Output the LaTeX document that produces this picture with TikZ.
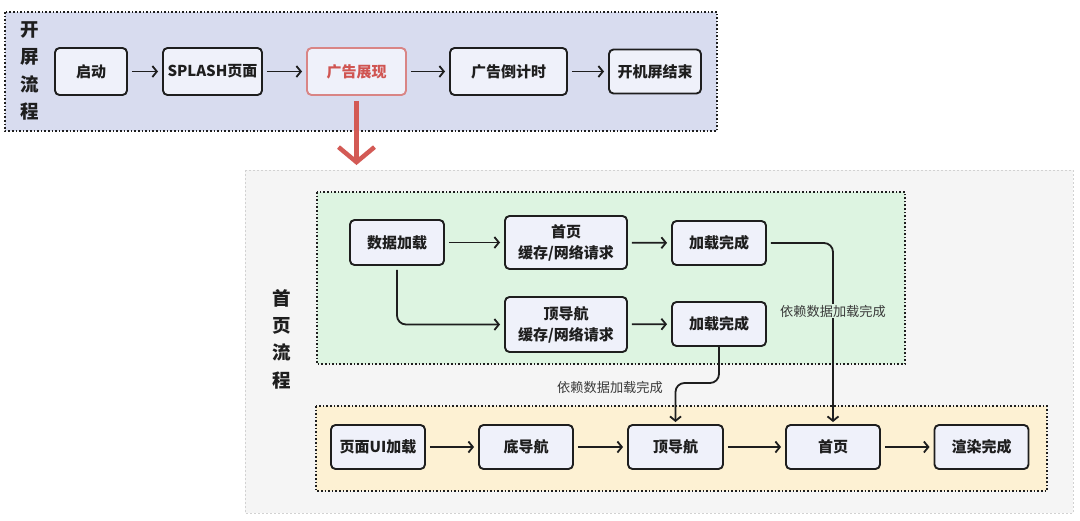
\documentclass[tikz,border=0pt]{standalone}
\usepackage{fontspec}
\setmainfont{Noto Sans CJK SC}
\usetikzlibrary{arrows.meta}
\definecolor{topbg}{HTML}{D8DCEF}
\definecolor{graybg}{HTML}{F5F5F5}
\definecolor{grayln}{HTML}{D2D2D2}
\definecolor{greenbg}{HTML}{DDF4E1}
\definecolor{yellowbg}{HTML}{FDF1D3}
\definecolor{boxfill}{HTML}{EFF1FA}
\definecolor{ink}{HTML}{1E1E1E}
\definecolor{redarrow}{HTML}{D35A55}
\definecolor{redbox}{HTML}{D98585}
\definecolor{redtext}{HTML}{D05552}
\definecolor{labeltext}{HTML}{3A3A3A}
\tikzset{
  panel/.style={draw=ink, line width=1.6pt, dash pattern=on 1.6pt off 2pt},
  stepbox/.style={draw=ink, line width=1.9pt, rounded corners=4.5pt, fill=boxfill,
    font=\fontsize{15}{21}\selectfont\bfseries, text=ink, align=center, inner sep=0pt,
    minimum height=44pt, minimum width=94pt},
  conn/.style={draw=ink, line width=1.8pt, -{Straight Barb[length=4.5pt,width=11pt]},
    shorten >=4pt, shorten <=4pt, rounded corners=9pt},
  vlabel/.style={font=\fontsize{18.5}{27.3}\selectfont\bfseries, text=ink, align=center, inner sep=0pt},
  deplabel/.style={font=\fontsize{13.2}{15}\selectfont, text=labeltext, inner sep=1pt}
}
\begin{document}
\begin{tikzpicture}[x=1pt,y=-1pt]
\useasboundingbox (0,0) rectangle (1080,520);
% panels
\fill[topbg] (5,12) rectangle (717,131);
\draw[panel] (5,12) rectangle (717,131);
\draw[fill=graybg, draw=grayln, line width=1pt, dash pattern=on 2pt off 2pt] (245,170) rectangle (1073,513);
\fill[greenbg] (317,192) rectangle (905,364);
\draw[panel] (317,192) rectangle (905,364);
\fill[yellowbg] (316,406) rectangle (1047,491);
\draw[panel] (316,406) rectangle (1047,491);
% vertical labels
\node[vlabel] (kp) at (30,71) {开\\屏\\流\\程};
\node[vlabel] (sylc) at (282,339) {首\\页\\流\\程};
% top row
\node[stepbox, minimum width=72pt, minimum height=47pt] (qd) at (91,71.5) {启动};
\node[stepbox, minimum width=99pt, minimum height=47pt] (sp) at (212.5,71.5) {SPLASH页面};
\node[stepbox, minimum width=99pt, minimum height=47pt, draw=redbox, text=redtext] (gg) at (356.5,71.5) {广告展现};
\node[stepbox, minimum width=117pt, minimum height=47pt] (djs) at (508.5,71.5) {广告倒计时};
\node[stepbox, minimum width=92pt, minimum height=44pt] (jsend) at (655,71.5) {开机屏结束};
\draw[conn] (qd) -- (sp);
\draw[conn] (sp) -- (gg);
\draw[conn] (gg) -- (djs);
\draw[conn] (djs) -- (jsend);
\draw[redarrow, line width=4.5pt, -{Straight Barb[length=15pt,width=36pt]}, shorten <=5pt] (gg.south) -- (356.5,165);
% green panel
\node[stepbox, minimum height=45pt] (sj) at (397,242.5) {数据加载};
\node[stepbox, minimum width=122pt, minimum height=53pt] (syq) at (566,242.5) {首页\\缓存/网络请求};
\node[stepbox] (ld1) at (719,243) {加载完成};
\node[stepbox, minimum width=122pt, minimum height=55pt] (dhq) at (566,324.5) {顶导航\\缓存/网络请求};
\node[stepbox] (ld2) at (719,324) {加载完成};
\draw[conn] (sj) -- (syq);
\draw[conn] (syq) -- (ld1);
\draw[conn] (sj.south) |- (dhq.west);
\draw[conn] (dhq) -- (ld2);
% yellow panel
\node[stepbox] (ui) at (378,447) {页面UI加载};
\node[stepbox] (ddh) at (526,447) {底导航};
\node[stepbox, minimum width=95pt] (tdh) at (675.5,447) {顶导航};
\node[stepbox] (home) at (833,447) {首页};
\node[stepbox] (xr) at (981.5,447) {渲染完成};
\draw[conn] (ui) -- (ddh);
\draw[conn] (ddh) -- (tdh);
\draw[conn] (tdh) -- (home);
\draw[conn] (home) -- (xr);
% dependencies
\draw[conn, shorten <=4pt, shorten >=2pt] (ld1.east) -| (home.north);
\node[deplabel, fill=greenbg] (dep1) at (833,311) {依赖数据加载完成};
\draw[conn, shorten <=0pt, shorten >=2pt] (ld2.south) -- (ld2.south |- 0,383) -| (tdh.north);
\node[deplabel] (dep2) at (610,387) {依赖数据加载完成};
\end{tikzpicture}
\end{document}
